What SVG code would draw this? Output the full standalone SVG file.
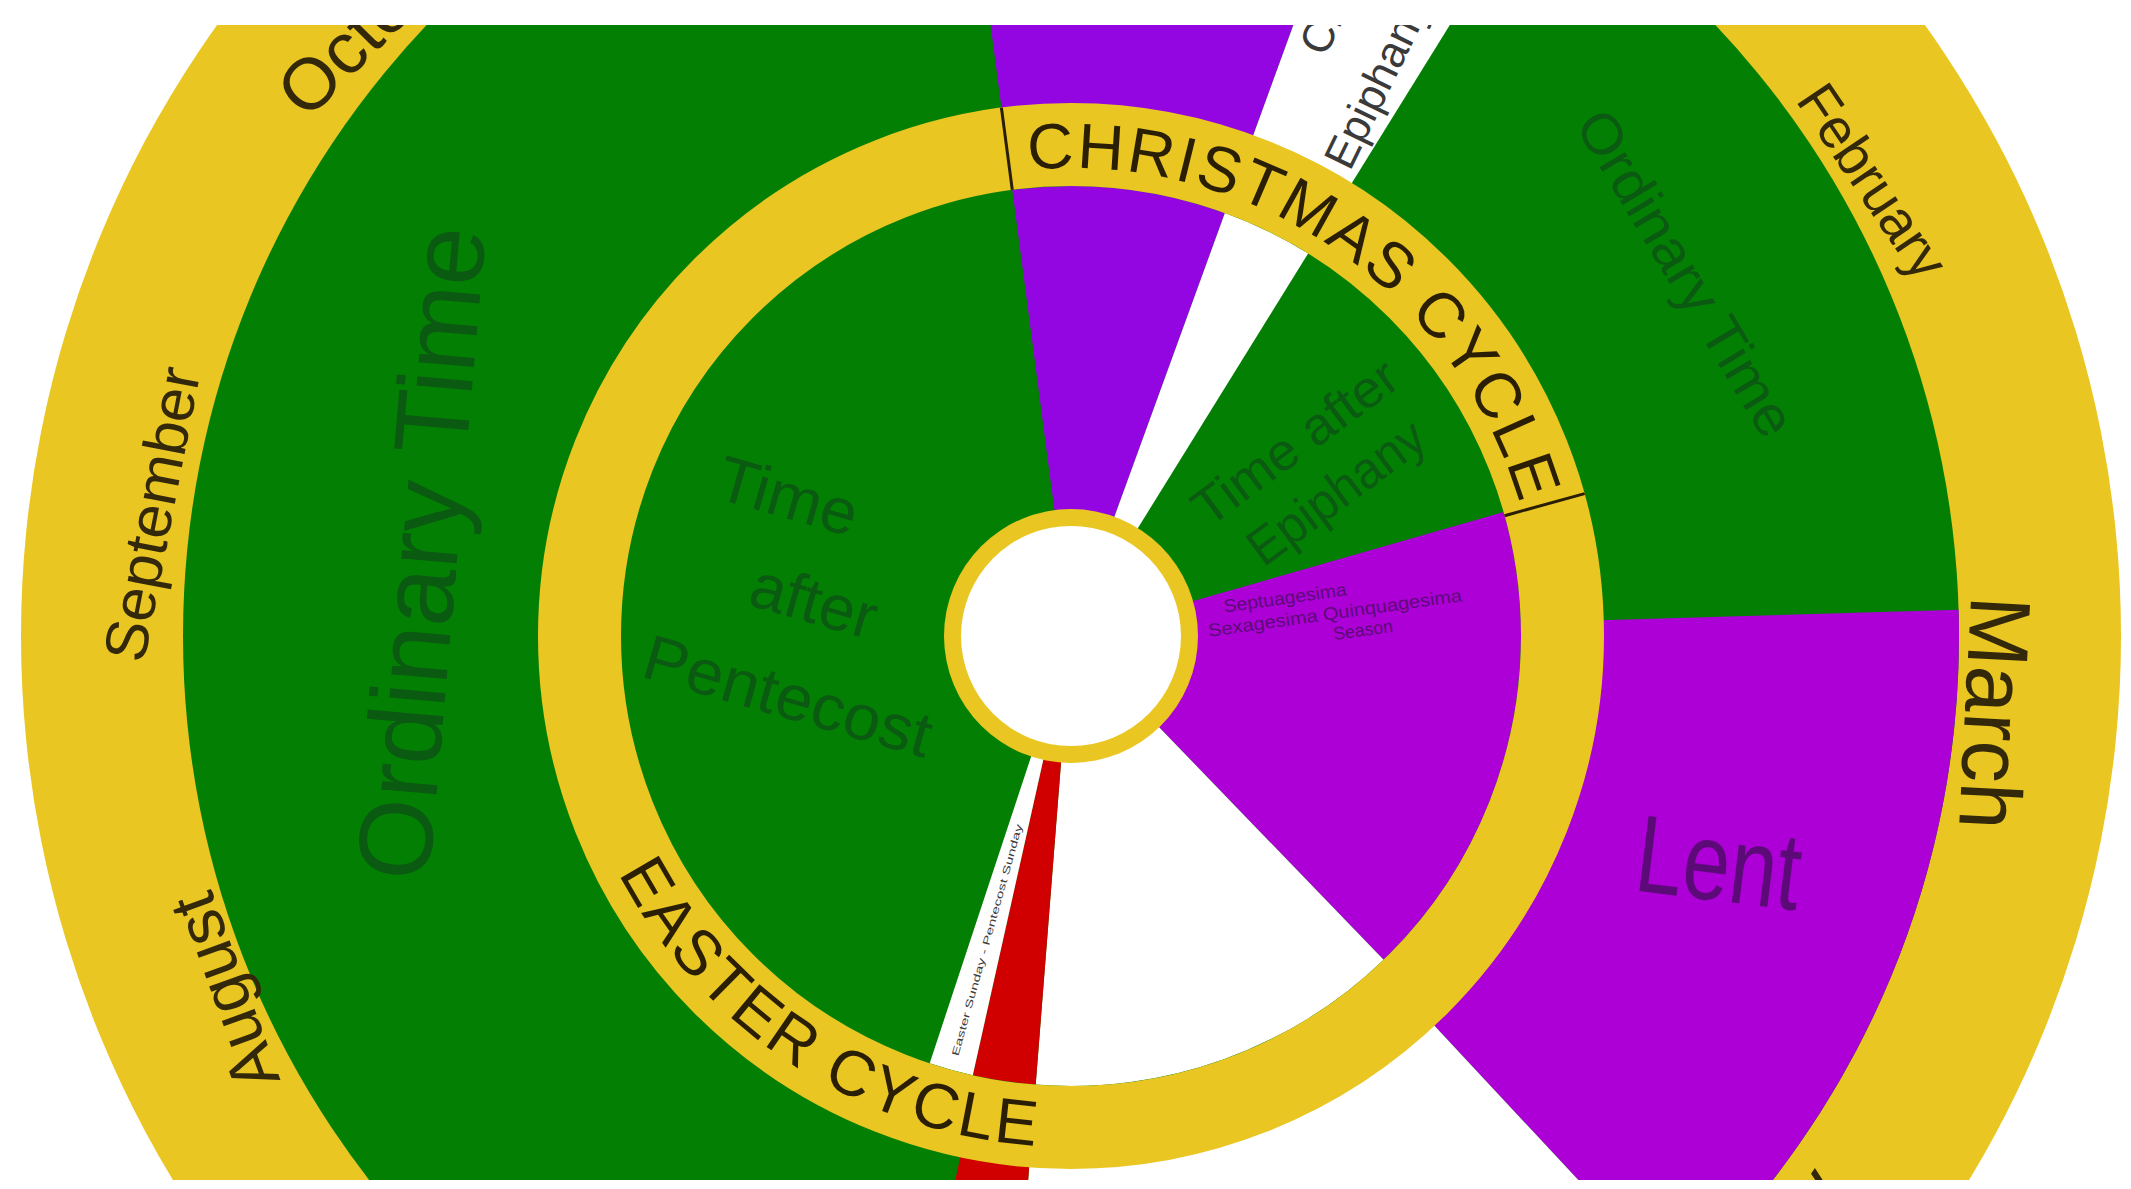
<svg xmlns="http://www.w3.org/2000/svg" width="2131" height="1189" viewBox="0 0 2131 1189">
<defs>
<style>
.y{fill:#EAC623}
.g{fill:#038003}
.pa{fill:#9306E2}
.pl{fill:#AC00D6}
.w{fill:#FFFFFF}
.r{fill:#D00000}
.ring{fill:none;stroke:#EAC623}
.tick{stroke:#2A1E05;stroke-width:3;fill:none}
text{font-family:"Liberation Sans","DejaVu Sans",sans-serif}
.mo{fill:#33290A}
.cy{fill:#2A1E05;font-size:64px}
.gt{fill:#0B5A12}
.pt{fill:#5C0A78}
.wt{fill:#3A3A3A}
</style>
<clipPath id="frame"><rect x="0" y="25" width="2131" height="1155"/></clipPath>
<path id="arcXmas" d="M1014.0,171.5 A468,468 0 0 1 1525.1,522.8"/>
<path id="arcEaster" d="M615.7,868.0 A511,511 0 0 0 1044.3,1146.3"/>
</defs>
<rect x="0" y="0" width="2131" height="1189" fill="#FFFFFF"/>
<g clip-path="url(#frame)">
<g id="month-ring">
<circle class="y" cx="1071" cy="636" r="1050"/>
</g>
<g id="outer-seasons">
<circle class="g" cx="1071" cy="636" r="888"/>
<path class="pa" d="M1071,636 L955.1,-244.4 A888,888 0 0 1 1374.7,-198.4 Z"/>
<path class="w" d="M1071,636 L1374.7,-198.4 A888,888 0 0 1 1538.9,-118.7 Z"/>
<path class="pl" d="M1071,636 L1958.6,609.7 A888,888 0 0 1 1676.6,1285.4 Z"/>
<path class="w" d="M1071,636 L1676.6,1285.4 A888,888 0 0 1 1001.3,1521.3 Z"/>
<path class="r" d="M1071,636 L1001.3,1521.3 A888,888 0 0 1 886.4,1504.6 Z"/>
</g>
<g id="inner-seasons">
<circle class="g" cx="1071" cy="636" r="452"/>
<path class="pa" d="M1071,636 L1012.3,189.9 A450,450 0 0 1 1224.9,213.1 Z"/>
<path class="w" d="M1071,636 L1224.9,213.1 A450,450 0 0 1 1308.1,253.5 Z"/>
<path class="pl" d="M1071,636 L1503.6,512.0 A450,450 0 0 1 1383.6,959.7 Z"/>
<path class="w" d="M1071,636 L1383.6,959.7 A450,450 0 0 1 1035.7,1084.6 Z"/>
<path class="r" d="M1071,636 L1035.7,1084.6 A450,450 0 0 1 972.8,1075.2 Z"/>
<path class="w" d="M1071,636 L972.8,1075.2 A450,450 0 0 1 929.7,1063.2 Z"/>
</g>
<g id="cycle-ring">
<circle class="ring" cx="1071" cy="636" r="491.5" stroke-width="83"/>
<line class="tick" x1="1012.3" y1="189.9" x2="1001.4" y2="107.6"/>
<line class="tick" x1="1504.6" y1="515.7" x2="1584.6" y2="493.6"/>
<text class="cy" letter-spacing="2.5"><textPath href="#arcXmas" startOffset="14">CHRISTMAS CYCLE</textPath></text>
<text class="cy" letter-spacing="3"><textPath href="#arcEaster" startOffset="6">EASTER CYCLE</textPath></text>
</g>
<g id="center">
<circle class="y" cx="1071" cy="636" r="127"/>
<circle class="w" cx="1071" cy="636" r="110"/>
</g>
<g id="month-labels" class="mo" text-anchor="middle" dominant-baseline="central">
<text transform="translate(152,514) rotate(-79)" font-size="60" textLength="298" lengthAdjust="spacingAndGlyphs">September</text>
<text transform="translate(224,992) rotate(-110)" font-size="66" textLength="204" lengthAdjust="spacingAndGlyphs">August</text>
<text transform="translate(307,121) rotate(-45)" font-size="72" text-anchor="start" dominant-baseline="alphabetic" textLength="260" lengthAdjust="spacingAndGlyphs">October</text>
<text transform="translate(1873,181) rotate(56)" font-size="56" textLength="221" lengthAdjust="spacingAndGlyphs">February</text>
<text transform="translate(1995,713) rotate(93)" font-size="86" textLength="233" lengthAdjust="spacingAndGlyphs">March</text>
<text transform="translate(1815,1168) rotate(125)" font-size="70" text-anchor="start" dominant-baseline="alphabetic">April</text>
</g>
<g id="season-labels" text-anchor="middle" dominant-baseline="central">
<text class="gt" transform="translate(421,553) rotate(-85)" font-size="105" textLength="655" lengthAdjust="spacingAndGlyphs">Ordinary Time</text>
<text class="gt" transform="translate(1686,273) rotate(59)" font-size="56" textLength="370" lengthAdjust="spacingAndGlyphs">Ordinary Time</text>
<text class="pt" transform="translate(1719,862) rotate(7)" font-size="110" textLength="165" lengthAdjust="spacingAndGlyphs">Lent</text>
<text class="gt" transform="translate(788,496) rotate(16)" font-size="64" textLength="143" lengthAdjust="spacingAndGlyphs">Time</text>
<text class="gt" transform="translate(814,601) rotate(16)" font-size="64" textLength="129" lengthAdjust="spacingAndGlyphs">after</text>
<text class="gt" transform="translate(788,696) rotate(16)" font-size="64" textLength="297" lengthAdjust="spacingAndGlyphs">Pentecost</text>
<text class="gt" transform="translate(1295,442) rotate(-36.5)" font-size="52" textLength="242" lengthAdjust="spacingAndGlyphs">Time after</text>
<text class="gt" transform="translate(1336,492) rotate(-36.5)" font-size="52" textLength="207" lengthAdjust="spacingAndGlyphs">Epiphany</text>
<text class="pt" transform="translate(1285,598) rotate(-8)" font-size="18" textLength="124" lengthAdjust="spacingAndGlyphs">Septuagesima</text>
<text class="pt" transform="translate(1335,613) rotate(-8)" font-size="18" textLength="256" lengthAdjust="spacingAndGlyphs">Sexagesima Quinquagesima</text>
<text class="pt" transform="translate(1363,630) rotate(-8)" font-size="18" textLength="60" lengthAdjust="spacingAndGlyphs">Season</text>
<text class="wt" transform="translate(987,940) rotate(-74.5)" font-size="10" textLength="240" lengthAdjust="spacingAndGlyphs">Easter Sunday - Pentecost Sunday</text>
<text class="wt" transform="translate(1325,58) rotate(-64)" font-size="44" text-anchor="start" dominant-baseline="alphabetic">Christmas</text>
<text class="wt" transform="translate(1350,172) rotate(-64)" font-size="44" text-anchor="start" dominant-baseline="alphabetic">Epiphany</text>
</g>
</g>
</svg>
